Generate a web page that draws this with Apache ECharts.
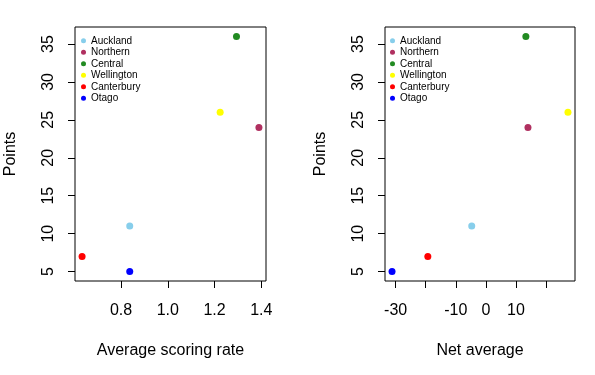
<!DOCTYPE html>
<html>
<head>
<meta charset="utf-8">
<script src="https://cdn.jsdelivr.net/npm/echarts@6/dist/echarts.min.js"></script>
<style>
  html, body { margin: 0; padding: 0; background: #fff; }
  #chart { width: 595px; height: 375px; }
</style>
</head>
<body>
<div id="chart"></div>
<script>
// data
const teams = ['Auckland', 'Northern', 'Central', 'Wellington', 'Canterbury', 'Otago']
const teamColors = ['#87CEEB', '#B03060', '#228B22', '#FFFF00', '#FF0000', '#0000FF']
const points = [11, 24, 36, 26, 7, 5]
const scoringRate = [0.837, 1.39, 1.294, 1.224, 0.633, 0.837]
const netAverage = [-4.7, 14.0, 13.3, 27.3, -19.3, -31.2]
const pointTicks = [5, 10, 15, 20, 25, 30, 35]
const rateTicks = [0.8, 1.0, 1.2, 1.4]
const netTicks = [-30, -20, -10, 0, 10, 20]
const netLabels = [-30, -10, 0, 10]

const FONT = 'Liberation Sans, Arial, sans-serif'

// R style 4% padding of the data range
function padded(arr) {
  const lo = Math.min(...arr)
  const hi = Math.max(...arr)
  const d = (hi - lo) * 0.04
  return [lo - d, hi + d]
}

function xAxisFor(gridIndex, values, ticks, labels, name, fmt) {
  const r = padded(values)
  return {
    type: 'value',
    gridIndex,
    min: r[0],
    max: r[1],
    name,
    nameLocation: 'middle',
    nameGap: 62,
    nameTextStyle: { fontFamily: FONT, fontSize: 16, color: '#000' },
    axisLine: { show: false, onZero: false },
    axisTick: { show: true, inside: false, length: 7, customValues: ticks, lineStyle: { color: '#000' } },
    axisLabel: { customValues: labels, margin: 22, fontFamily: FONT, fontSize: 16, color: '#000', formatter: fmt },
    splitLine: { show: false }
  }
}

function yAxisFor(gridIndex) {
  const r = padded(points)
  return {
    type: 'value',
    gridIndex,
    min: r[0],
    max: r[1],
    name: 'Points',
    nameLocation: 'middle',
    nameRotate: 90,
    nameGap: 56,
    nameTextStyle: { fontFamily: FONT, fontSize: 16, color: '#000' },
    axisLine: { show: false, onZero: false },
    axisTick: { show: true, inside: false, length: 7, customValues: pointTicks, lineStyle: { color: '#000' } },
    axisLabel: { customValues: pointTicks, rotate: 90, margin: 18, fontFamily: FONT, fontSize: 16, color: '#000' },
    splitLine: { show: false }
  }
}

const series = []
teams.forEach((t, i) => {
  series.push({
    name: t, type: 'scatter', xAxisIndex: 0, yAxisIndex: 0,
    symbolSize: 7, itemStyle: { color: teamColors[i], opacity: 1 },
    data: [[scoringRate[i], points[i]]]
  })
  series.push({
    name: t, type: 'scatter', xAxisIndex: 1, yAxisIndex: 1,
    symbolSize: 7, itemStyle: { color: teamColors[i], opacity: 1 },
    data: [[netAverage[i], points[i]]]
  })
})

function legendAt(left) {
  return {
    data: teams,
    orient: 'vertical',
    left,
    top: 35,
    icon: 'circle',
    itemWidth: 5,
    itemHeight: 5,
    itemGap: 0,
    padding: 0,
    selectedMode: false,
    textStyle: { fontFamily: FONT, fontSize: 10, lineHeight: 11.5, color: '#000' }
  }
}

const option = {
  animation: false,
  backgroundColor: '#fff',
  grid: [
    { left: 75, top: 27, width: 191, height: 254, show: true, borderColor: '#000', borderWidth: 1, backgroundColor: 'transparent' },
    { left: 385, top: 27, width: 190, height: 254, show: true, borderColor: '#000', borderWidth: 1, backgroundColor: 'transparent' }
  ],
  xAxis: [
    xAxisFor(0, scoringRate, rateTicks, rateTicks, 'Average scoring rate', v => v.toFixed(1)),
    xAxisFor(1, netAverage, netTicks, netLabels, 'Net average', v => String(v))
  ],
  yAxis: [yAxisFor(0), yAxisFor(1)],
  legend: [legendAt(81), legendAt(390)],
  series
}

const myChart = echarts.init(document.getElementById('chart'))
myChart.setOption(option)
</script>
</body>
</html>
